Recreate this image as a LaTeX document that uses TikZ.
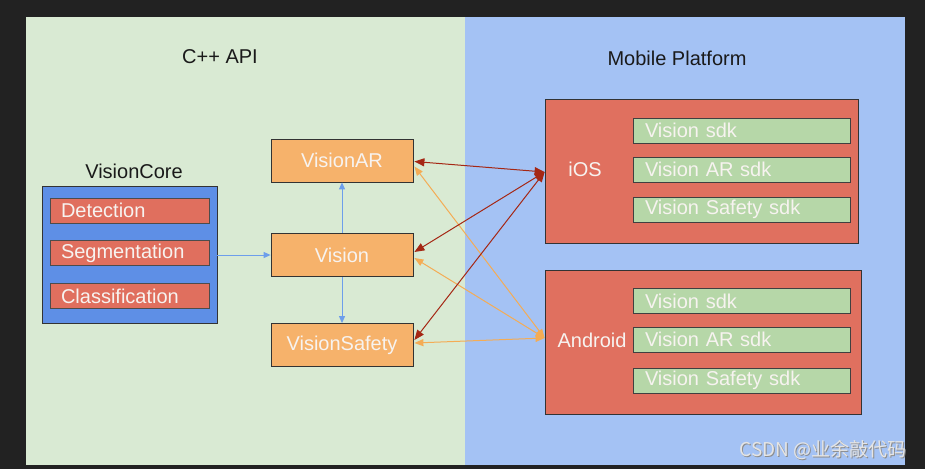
\documentclass[tikz,border=0pt]{standalone}
\usepackage{fontspec}
\setmainfont{Liberation Sans}
\newfontfamily\cjkfont{Noto Sans CJK SC}
\usetikzlibrary{arrows.meta,calc}
\definecolor{bgdark}{HTML}{222222}
\definecolor{pgreen}{HTML}{D9EAD3}
\definecolor{pblue}{HTML}{A4C2F4}
\definecolor{corebl}{HTML}{5E8FE6}
\definecolor{redbox}{HTML}{E06F5E}
\definecolor{osbox}{HTML}{E0705F}
\definecolor{orbox}{HTML}{F6B26B}
\definecolor{sdkg}{HTML}{B6D7A8}
\definecolor{darr}{HTML}{A52714}
\definecolor{oarr}{HTML}{F4AC55}
\definecolor{barr}{HTML}{6D9EEB}
\definecolor{txtw}{HTML}{F7F3F0}
\definecolor{txtd}{HTML}{1A1A1A}
\tikzset{
  bigfont/.style={font=\fontsize{20}{24}\selectfont},
  title/.style={bigfont,text=txtd,inner sep=0pt},
  corebox/.style={draw=black!80,line width=0.8pt,fill=corebl,minimum width=175pt,minimum height=137pt,inner sep=0pt},
  algbox/.style={draw=black!70,line width=0.8pt,fill=redbox,bigfont,text=txtw,text width=137pt,align=left,inner xsep=11pt,inner ysep=0pt,minimum height=25pt},
  modbox/.style={draw=black!80,line width=0.8pt,fill=orbox,bigfont,text=txtw,minimum width=142pt,minimum height=43pt,inner sep=0pt},
  osboxs/.style={draw=black!80,line width=0.8pt,fill=osbox,minimum height=144pt,inner sep=0pt},
  sdkbox/.style={draw=black!75,line width=0.8pt,fill=sdkg,bigfont,text=txtw,text width=193pt,align=left,inner xsep=12pt,inner ysep=0pt,minimum height=25pt},
  oslabel/.style={bigfont,text=txtw,inner sep=0pt},
  barrow/.style={draw=barr,line width=0.9pt,-{Triangle[length=7pt,width=6pt]}},
  darrow/.style={draw=darr,line width=1pt,{Triangle[length=10pt,width=8pt]}-{Triangle[length=10pt,width=8pt]}},
  oarrow/.style={draw=oarr,line width=1pt,{Triangle[length=9pt,width=7pt]}-{Triangle[length=9pt,width=7pt]}}
}
\begin{document}
\begin{tikzpicture}[x=1pt,y=-1pt]
\fill[bgdark] (0,0) rectangle (925,469);
\useasboundingbox (0,0) rectangle (925,469);
% panels
\fill[pgreen] (26,17) rectangle (465,465);
\fill[pblue] (465,17) rectangle (905,465);
\node[title] (capi) at (220,57) {C++ API};
\node[title] (mobile) at (677,58) {Mobile Platform};
% VisionCore
\node[title] (vclabel) at (134,171) {VisionCore};
\node[corebox] (vc) at (129.5,254.5) {};
\node[algbox] (det) at (129.5,210.5) {Detection};
\node[algbox] (seg) at (129.5,253) {Segmentation};
\node[algbox] (cls) at (129.5,296) {Classification};
% modules
\node[modbox] (var) at (342,160.5) {VisionAR};
\node[modbox] (vis) at (342,255) {Vision};
\node[modbox] (vsf) at (342,345) {VisionSafety};
% iOS
\node[osboxs,minimum width=313pt] (ios) at (701.5,171) {};
\node[oslabel] (ioslabel) at (585,169) {iOS};
\node[sdkbox] (ios1) at (741.5,130.5) {Vision sdk};
\node[sdkbox] (ios2) at (741.5,169.5) {Vision AR sdk};
\node[sdkbox] (ios3) at (741.5,209.5) {Vision Safety sdk};
% Android
\node[osboxs,minimum width=316pt] (and) at (703,342) {};
\node[oslabel] (andlabel) at (592,340) {Android};
\node[sdkbox] (and1) at (741.5,301) {Vision sdk};
\node[sdkbox] (and2) at (741.5,339.5) {Vision AR sdk};
\node[sdkbox] (and3) at (741.5,380.5) {Vision Safety sdk};
% connectors
\draw[barrow] (vc.east |- vis.west) -- (vis.west);
\draw[barrow] (vis.north) -- (var.south);
\draw[barrow] (vis.south) -- (vsf.north);
\coordinate (iosp) at ($(ios.west)+(0,1)$);
\coordinate (andp) at ($(and.west)+(0,-4)$);
\draw[oarrow] ($(var.east)+(1,6)$) -- (andp);
\draw[oarrow] ($(vis.east)+(1,3)$) -- (andp);
\draw[oarrow] ($(vsf.east)+(1,-2)$) -- (andp);
\draw[darrow] ($(var.east)+(1,1)$) -- (iosp);
\draw[darrow] ($(vis.east)+(1,-3)$) -- (iosp);
\draw[darrow] ($(vsf.east)+(1,-5)$) -- (iosp);
% watermark
\node[font=\cjkfont\fontsize{19}{22}\selectfont,text=black!45,inner sep=0pt] at (824,451) {CSDN @业余敲代码};
\node[font=\cjkfont\fontsize{19}{22}\selectfont,text=white!90!black,inner sep=0pt] (csdn) at (823,450) {CSDN @业余敲代码};
\end{tikzpicture}
\end{document}
